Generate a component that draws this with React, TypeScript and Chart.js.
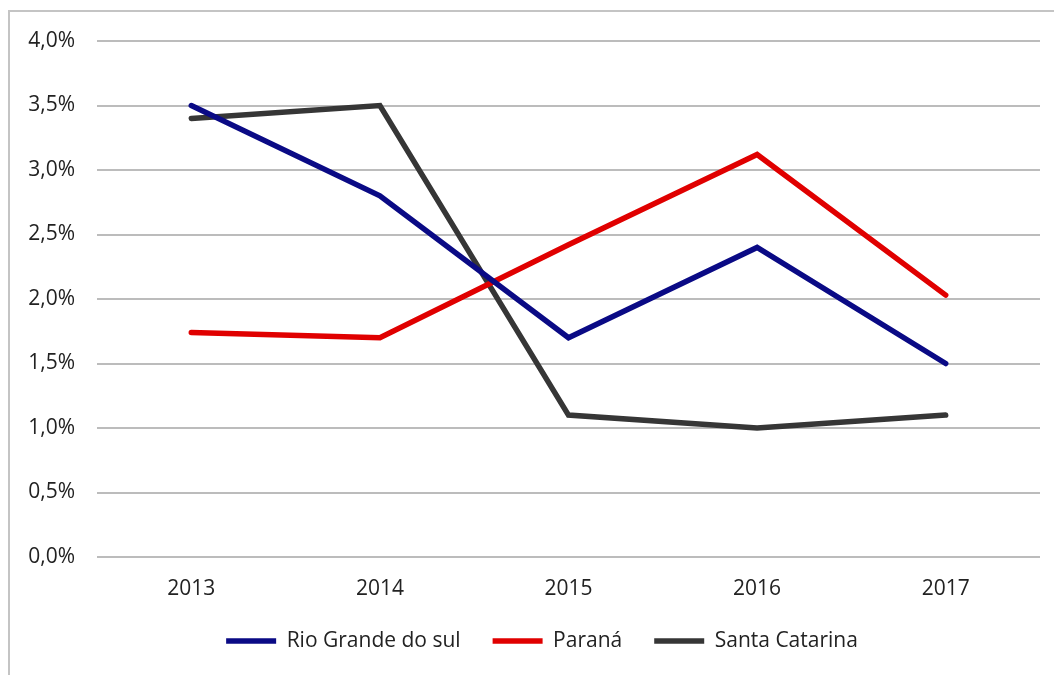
import React, { useEffect, useRef } from "react";
import { Chart, registerables } from "chart.js";

Chart.register(...registerables);

const categories = ["2013", "2014", "2015", "2016", "2017"];
const rioGrandeDoSul = [3.5, 2.8, 1.7, 2.4, 1.5];
const parana = [1.74, 1.7, 2.42, 3.12, 2.03];
const santaCatarina = [3.4, 3.5, 1.1, 1.0, 1.1];
const seriesNames = ["Rio Grande do sul", "Paraná", "Santa Catarina"];
const seriesColors = ["#0a0a85", "#e00000", "#363636"];

const FONT = "'Open Sans', 'DejaVu Sans', sans-serif";

const legendShift = {
  id: "legendShift",
  afterLayout(chart: any) {
    const lg = chart.legend;
    if (lg) {
      lg.left += 22;
      lg.right += 22;
    }
  },
};

export default function App() {
  const canvasRef = useRef<HTMLCanvasElement | null>(null);

  useEffect(() => {
    if (!canvasRef.current) return;
    const values = [rioGrandeDoSul, parana, santaCatarina];
    const chart = new Chart(canvasRef.current, {
      type: "line",
      data: {
        labels: categories,
        datasets: values.map((v, i) => ({
          label: seriesNames[i],
          data: v,
          borderColor: seriesColors[i],
          backgroundColor: seriesColors[i],
          borderWidth: 5.5,
          borderCapStyle: "round" as const,
          borderJoinStyle: "miter" as const,
          pointRadius: 0,
          pointHoverRadius: 0,
          tension: 0,
          fill: false,
        })),
      },
      plugins: [legendShift],
      options: {
        responsive: false,
        animation: false,
        layout: { padding: { top: 41, right: 14, bottom: 13.5, left: 0 } },
        plugins: {
          tooltip: { enabled: false },
          legend: {
            display: true,
            position: "bottom",
            labels: {
              usePointStyle: true,
              pointStyle: "line",
              pointStyleWidth: 50,
              padding: 32,
              color: "#222",
              font: { family: FONT, size: 21 },
            },
          },
        },
        scales: {
          x: {
            offset: true,
            grid: { display: false, drawTicks: false },
            border: { display: false },
            ticks: {
              padding: 21.5,
              color: "#222",
              font: { family: FONT, size: 21, lineHeight: 1.0 },
            },
            afterFit: (axis: any) => {
              axis.height = 41.5;
            },
          },
          y: {
            min: 0,
            max: 4,
            grid: { color: "#bcbcbc", lineWidth: 2, drawTicks: false },
            border: { display: false },
            ticks: {
              stepSize: 0.5,
              padding: 22,
              color: "#222",
              font: { family: FONT, size: 21 },
              callback: (v: any) => Number(v).toFixed(1).replace(".", ",") + "%",
            },
            afterFit: (axis: any) => {
              axis.width = 97;
            },
          },
        },
      },
    });
    return () => chart.destroy();
  }, []);

  return (
    <div style={{ position: "fixed", left: 0, top: 0, width: 1054, height: 675, background: "#fff", overflow: "hidden" }}>
      <div
        style={{
          position: "absolute",
          left: 8,
          top: 10,
          width: 1100,
          height: 700,
          borderLeft: "2px solid #c4c4c4",
          borderTop: "2px solid #c4c4c4",
        }}
      />
      <canvas ref={canvasRef} width={1054} height={675} style={{ position: "absolute", left: 0, top: 0 }} />
    </div>
  );
}
